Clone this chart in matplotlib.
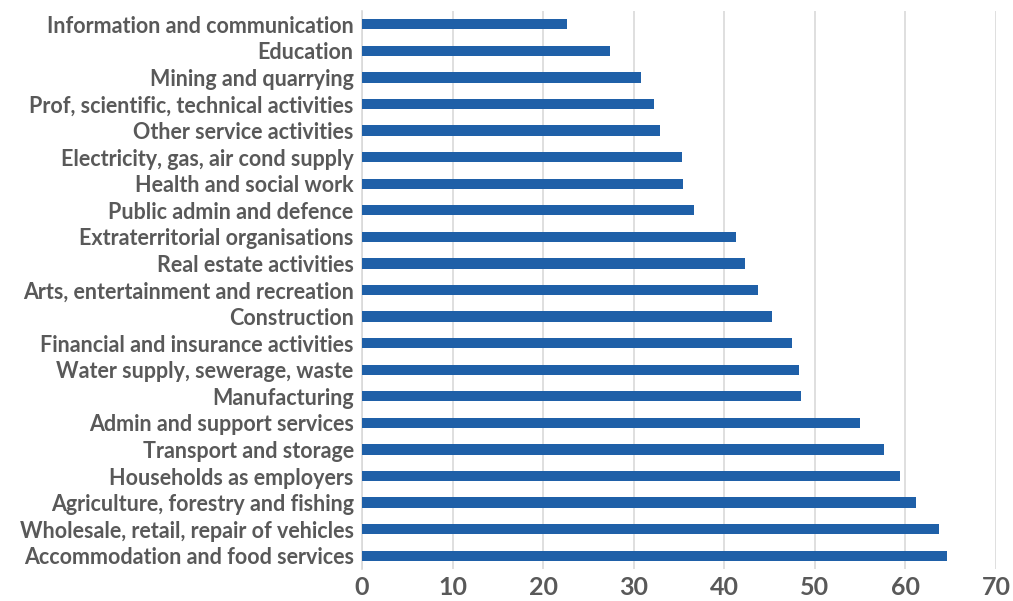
import matplotlib
matplotlib.use("Agg")
import matplotlib.pyplot as plt

categories = [
    "Information and communication",
    "Education",
    "Mining and quarrying",
    "Prof, scientific, technical activities",
    "Other service activities",
    "Electricity, gas, air cond supply",
    "Health and social work",
    "Public admin and defence",
    "Extraterritorial organisations",
    "Real estate activities",
    "Arts, entertainment and recreation",
    "Construction",
    "Financial and insurance activities",
    "Water supply, sewerage, waste",
    "Manufacturing",
    "Admin and support services",
    "Transport and storage",
    "Households as employers",
    "Agriculture, forestry and fishing",
    "Wholesale, retail, repair of vehicles",
    "Accommodation and food services",
]
values = [22.6, 27.4, 30.8, 32.2, 32.9, 35.3, 35.4, 36.6, 41.3, 42.3,
          43.7, 45.3, 47.5, 48.2, 48.5, 55.0, 57.6, 59.4, 61.2, 63.7, 64.6]
x_ticks = [0, 10, 20, 30, 40, 50, 60, 70]

bar_color = "#1F60A8"
text_color = "#595959"
grid_color = "#D9D9D9"

plt.rcParams["font.family"] = ["Lato", "DejaVu Sans"]

fig = plt.figure(figsize=(10.13, 6.01), dpi=100)
ax = fig.add_axes([0.3574, 0.0532, 0.6258, 0.9285])

pos = list(range(len(categories)))
ax.barh(pos, values, height=0.39, color=bar_color, zorder=3)

ax.set_ylim(len(categories) - 0.5, -0.5)
ax.set_xlim(0, 70)
ax.set_yticks(pos)
ax.set_yticklabels(categories, fontsize=15.5, fontweight="bold", color=text_color)
ax.set_xticks(x_ticks)
ax.set_xticklabels([str(t) for t in x_ticks], fontsize=18, fontweight="bold", color=text_color)

ax.tick_params(axis="y", length=0, pad=6)
ax.tick_params(axis="x", length=0, pad=5)
ax.xaxis.grid(True, color=grid_color, linewidth=1.2, zorder=0)
ax.set_axisbelow(True)

for side in ("top", "right", "bottom"):
    ax.spines[side].set_visible(False)
ax.spines["left"].set_color(grid_color)
ax.spines["left"].set_linewidth(1.2)

fig.savefig("out.png", dpi=100, facecolor="white")
